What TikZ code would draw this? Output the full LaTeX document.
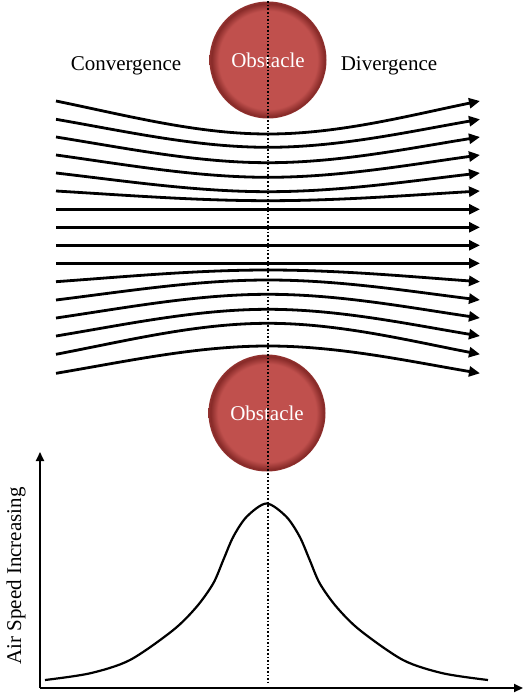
\documentclass[tikz,border=0pt]{standalone}
\usepackage{fontspec}
\setmainfont{Liberation Serif}
\usepackage{xcolor}
\usepackage{tikz}
\usetikzlibrary{arrows.meta, positioning, calc, shapes.geometric}
\definecolor{obsred}{RGB}{192,80,77}
\definecolor{obsdark}{RGB}{135,42,40}
\pgfdeclareradialshading{obsball}{\pgfpoint{0bp}{0bp}}{%
  color(0bp)=(obsred); color(21bp)=(obsred); color(24.2bp)=(obsdark);
  color(25bp)=(obsdark!80!obsred); color(50bp)=(obsdark)}
\tikzset{
  obstacle/.style = {circle, minimum size=117pt, inner sep=0pt,
                     shading=obsball, text=white, font=\fontsize{21}{25}\selectfont},
  label/.style    = {font=\fontsize{21}{25}\selectfont, inner sep=0pt},
  stream/.style   = {-{Triangle[length=11pt,width=10pt]}, line width=2.8pt, draw=black},
  axis/.style     = {-{Triangle[length=9pt,width=8pt]}, line width=2pt, draw=black},
  speed/.style    = {line width=2.2pt, draw=black},
  centre/.style   = {dotted, line width=1.6pt, draw=black}
}

\begin{document}
\begin{tikzpicture}[x=1pt, y=-1pt]
  \useasboundingbox (0,0) rectangle (525,698);
  % obstacles
  \node[obstacle] (obsT) at (268,60)  {Obstacle};
  \node[obstacle] (obsB) at (267,413) {Obstacle};
  \node[label] (conv) at (126,66) {Convergence};
  \node[label] (div)  at (389,66) {Divergence};
  % streamlines
  \foreach \ya/\ym in {101/134, 119.3/147.3, 137/162.7, 155/177.3, 173/191.7,
                       191/200.7, 209.3/209.3, 227.3/227.3, 245.3/245.3, 263.3/263.3,
                       281.7/270, 300/280, 318/294.3, 336/309.3, 354.3/323.3, 373.3/346}{
    \pgfmathsetmacro{\dy}{0.44*(\ym-\ya)}
    \draw[stream] (56,\ya) .. controls +(71,\dy) and +(-71,0) .. (268,\ym)
                            .. controls +(71,0) and +(-71,\dy) .. (480,\ya);
  }
  % axes
  \coordinate (origin) at (40,688);
  \coordinate (ytip)   at (40,452);
  \coordinate (xtip)   at (523,688);
  \draw[axis] (origin) -- (ytip);
  \draw[axis] (origin) -- (xtip);
  \node[label, rotate=90] (speedlbl) at (16,576) {Air Speed Increasing};
  % speed curve
  \draw[speed] plot[smooth, tension=0.5] coordinates {(45,680) (90,673.3)
    (130,660) (173.3,630) (196.7,606.7) (213.3,583.3) (223.3,560) (233.3,536.7)
    (246.7,516.7) (266.5,503.5) (286.3,516.7) (299.7,536.7)
    (309.7,560) (319.7,583.3) (336.3,606.7) (359.7,630) (403,660) (443,673.3) (488,680)};
  % centre line
  \coordinate (base) at (268,683);
  \draw[centre] (obsT.north) -- (base);
\end{tikzpicture}
\end{document}
